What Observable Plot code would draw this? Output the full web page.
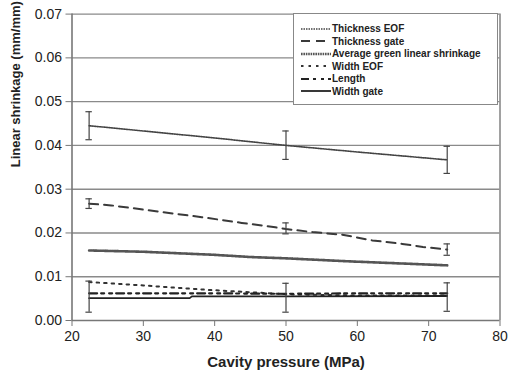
<!DOCTYPE html>
<html><head><meta charset="utf-8">
<script src="https://cdn.jsdelivr.net/npm/d3@7"></script>
<script src="https://cdn.jsdelivr.net/npm/@observablehq/plot@0.6"></script>
<style>
body{margin:0;background:#fff;font-family:"Liberation Sans",Arial,sans-serif}
#wrap{position:relative;width:511px;height:378px;overflow:hidden}
#legend{position:absolute;left:293px;top:13px;width:205px;height:92px;border:1.5px solid #888;background:#fff;box-sizing:border-box}
.row{position:absolute;left:7px;height:12px;display:flex;align-items:center;font-size:10px;font-weight:bold;color:#222;white-space:nowrap}
.row svg{margin-right:1px}
</style></head><body><div id="wrap"></div><script>
// ---- data ----
const seriesNames = ["Thickness EOF","Thickness gate","Average green linear shrinkage","Width EOF","Length","Width gate"];
const xTitle = "Cavity pressure (MPa)";
const yTitle = "Linear shrinkage (mm/mm)";
const thicknessEOFX = [22.4, 30, 40, 50, 60, 72.6];
const thicknessEOFY = [0.0445, 0.0433, 0.0417, 0.0400, 0.0385, 0.0367];
const thicknessGateX = [22.4, 25.5, 32.5, 38.2, 43.8, 48.5, 50, 53.7, 57.9, 62.1, 66.3, 69.2, 72.6];
const thicknessGateY = [0.0267, 0.0263, 0.0248, 0.0236, 0.0223, 0.0213, 0.0209, 0.0202, 0.0196, 0.0183, 0.0175, 0.0168, 0.0162];
const avgGreenX = [22.4, 30, 40, 45, 50, 59, 72.6];
const avgGreenY = [0.0160, 0.0157, 0.0150, 0.0145, 0.0142, 0.0135, 0.0126];
const widthEOFX = [22.4, 30, 39, 50, 60, 72.6];
const widthEOFY = [0.0088, 0.0080, 0.0070, 0.0060, 0.0057, 0.0057];
const lengthX = [22.4, 40, 50, 60, 72.6];
const lengthY = [0.0062, 0.0062, 0.0061, 0.0062, 0.0062];
const widthGateX = [22.4, 36.5, 36.8, 50, 72.6];
const widthGateY = [0.0051, 0.0051, 0.0055, 0.0055, 0.0056];
const errX = [22.4, 50, 72.6];
const thicknessEOFLow = [0.0413, 0.0368, 0.0336];
const thicknessEOFHigh = [0.0477, 0.0433, 0.0398];
const thicknessGateLow = [0.0256, 0.0198, 0.0149];
const thicknessGateHigh = [0.0278, 0.0223, 0.0175];
const bottomLow = [0.0019, 0.0019, 0.0021];
const bottomHigh = [0.0090, 0.0085, 0.0086];
const xTicks = [20, 30, 40, 50, 60, 70, 80];
const yTicks = [0, 0.01, 0.02, 0.03, 0.04, 0.05, 0.06, 0.07];

// ---- styles ----
const styles = [
  {stroke:"#444", strokeWidth:1.6, dash:"1.5,1"},
  {stroke:"#3a3a3a", strokeWidth:2, dash:"9,6"},
  {stroke:"#555", strokeWidth:2.6, dash:"1.6,0.8"},
  {stroke:"#333", strokeWidth:2, dash:"2.5,5"},
  {stroke:"#222", strokeWidth:2.2, dash:"8,4,3,5,3,4"},
  {stroke:"#222", strokeWidth:1.8, dash:null}
];
const seriesXY = [
  [thicknessEOFX, thicknessEOFY],
  [thicknessGateX, thicknessGateY],
  [avgGreenX, avgGreenY],
  [widthEOFX, widthEOFY],
  [lengthX, lengthY],
  [widthGateX, widthGateY]
];
const toRows = (xs, ys) => xs.map((x, i) => ({x, y: ys[i]}));
const errSets = [
  errX.map((x, i) => ({x, lo: thicknessEOFLow[i], hi: thicknessEOFHigh[i]})),
  errX.map((x, i) => ({x, lo: thicknessGateLow[i], hi: thicknessGateHigh[i]})),
  errX.map((x, i) => ({x, lo: bottomLow[i], hi: bottomHigh[i]}))
];

const marks = [
  Plot.ruleY(yTicks.slice(1), {stroke:"#8a8a8a", strokeWidth:1.4}),
  Plot.ruleX([80], {stroke:"#8a8a8a", strokeWidth:1.6}),
  Plot.ruleY([0], {stroke:"#777", strokeWidth:1.6}),
  Plot.ruleX([20], {stroke:"#777", strokeWidth:1.6}),
  ...seriesXY.map(([xs, ys], k) => Plot.line(toRows(xs, ys), {
    x:"x", y:"y", stroke: styles[k].stroke, strokeWidth: styles[k].strokeWidth,
    strokeDasharray: styles[k].dash || undefined
  })),
  ...errSets.flatMap(e => [
    Plot.ruleX(e, {x:"x", y1:"lo", y2:"hi", stroke:"#444", strokeWidth:1.2}),
    Plot.ruleY(e, {y:"hi", x1: d => d.x - 0.45, x2: d => d.x + 0.45, stroke:"#444", strokeWidth:1.2}),
    Plot.ruleY(e, {y:"lo", x1: d => d.x - 0.45, x2: d => d.x + 0.45, stroke:"#444", strokeWidth:1.2})
  ]),
  Plot.axisX({ticks: xTicks, tickSize: 6, tickPadding: 5, fontSize: 14, stroke:"#777", label: null}),
  Plot.axisY({ticks: yTicks, tickSize: 6, tickPadding: 4, fontSize: 14, stroke:"#777",
    tickFormat: d3.format(".2f"), label: null}),
  Plot.text([xTitle], {text: d => d, frameAnchor: "bottom", dy: 46, fontSize: 15, fontWeight: "bold", fill: "#222"}),
  Plot.text([yTitle], {text: d => d, frameAnchor: "left", dx: -56, rotate: -90, fontSize: 13, fontWeight: "bold", fill: "#222"})
];

const chart = Plot.plot({
  width: 511, height: 378,
  marginLeft: 71.5, marginRight: 11.5, marginTop: 13.6, marginBottom: 58,
  x: {domain: [20, 80]},
  y: {domain: [0, 0.07]},
  style: {fontFamily: '"Liberation Sans", Arial, sans-serif', color: "#222", background: "#fff", overflow: "visible"},
  marks
});
const wrap = document.getElementById("wrap");
wrap.appendChild(chart);

// legend
const legend = document.createElement("div");
legend.id = "legend";
const rowTops = [8.5, 21, 33.5, 46, 58.5, 71];
seriesNames.forEach((name, k) => {
  const row = document.createElement("div");
  row.className = "row";
  row.style.top = rowTops[k] + "px";
  const s = styles[k];
  row.innerHTML = `<svg width="30" height="12"><line x1="0" x2="30" y1="6" y2="6" stroke="${s.stroke}" stroke-width="${s.strokeWidth}" ${s.dash ? `stroke-dasharray="${s.dash}"` : ""}/></svg><span>${name}</span>`;
  legend.appendChild(row);
});
wrap.appendChild(legend);
</script></body></html>
